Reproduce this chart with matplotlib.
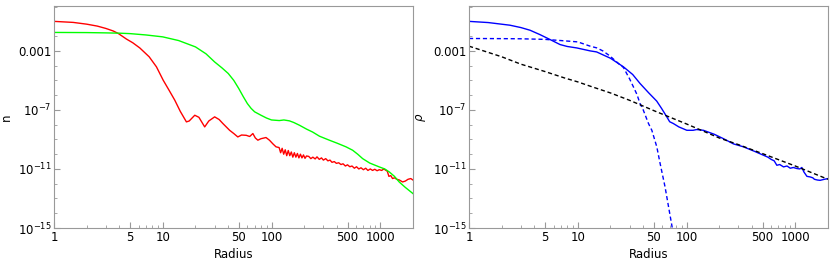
import numpy as np
import matplotlib.pyplot as plt
from matplotlib.ticker import FixedLocator, FixedFormatter, NullFormatter

# left panel: n(r), values as log10
r_red = [1, 1.5, 2, 2.5, 3, 3.5, 3.9, 4.64, 5.3, 6.15, 7.5, 8.75, 10.1, 11.5, 12.9, 14.5,
         16.5, 17.5, 19.7, 21.5, 24.3, 26.5, 30, 33, 35.7, 41.2, 45, 49, 53, 58.6, 63,
         67.4, 71, 74.9, 80, 89, 95.7, 103, 110,
         117.5, 121.3, 125.3, 129.4, 133.7, 138.0, 142.6, 147.2, 152.1, 157.0, 162.2,
         167.5, 173.0, 178.6, 184.5, 190.5, 196.8, 203.2, 209.9,
         220, 230, 240, 252, 262, 275, 288, 300, 315, 330, 345, 360, 378, 395, 415,
         435, 455, 478, 500, 525, 550, 578, 605, 635, 665, 700, 735, 770, 810, 850,
         890, 935, 980, 1030, 1080, 1130, 1160, 1200, 1250, 1297, 1350, 1420, 1500,
         1604, 1700, 1800, 1908, 2000]
n_red = [-1.0, -1.07, -1.19, -1.32, -1.48, -1.65, -1.82, -2.2, -2.45, -2.8, -3.4, -4.08,
         -4.99, -5.7, -6.34, -7.1, -7.81, -7.75, -7.36, -7.5, -8.15, -7.75, -7.47, -7.65,
         -7.92, -8.38, -8.6, -8.83, -8.7, -8.72, -8.8, -8.6, -8.9, -9.05, -8.95, -8.87,
         -9.05, -9.3, -9.5,
         -9.55, -9.9, -9.6, -10.0, -9.7, -10.1, -9.75, -10.1, -9.85, -10.2, -9.9,
         -10.2, -9.95, -10.25, -10.0, -10.25, -10.05, -10.28, -10.12,
         -10.15, -10.3, -10.2, -10.32, -10.18, -10.35, -10.25, -10.4, -10.3, -10.45,
         -10.4, -10.55, -10.5, -10.62, -10.58, -10.7, -10.65, -10.8, -10.72, -10.85,
         -10.8, -10.95, -10.85, -11.0, -10.92, -11.05, -10.95, -11.1, -11.0, -11.1,
         -11.02, -11.12, -11.05, -11.1, -11.0, -11.1, -11.15, -11.5, -11.45, -11.65,
         -11.6, -11.7, -11.75, -11.88, -11.82, -11.7, -11.65, -11.75]

r_green = [1, 2, 3, 4, 5, 7, 10, 14, 20, 25, 30, 35, 40, 45, 50, 55, 60, 65, 70, 80, 90,
           100, 118, 130, 146, 160, 181, 210, 239, 276, 340, 400, 484, 557, 620, 689,
           800, 978, 1100, 1210, 1350, 1493, 1700, 2000]
n_green = [-1.75, -1.76, -1.78, -1.8, -1.83, -1.92, -2.05, -2.3, -2.73, -3.2, -3.75, -4.15,
           -4.53, -5.0, -5.55, -6.1, -6.57, -6.9, -7.13, -7.36, -7.55, -7.68, -7.72, -7.68,
           -7.74, -7.85, -8.04, -8.3, -8.5, -8.78, -9.05, -9.25, -9.5, -9.73, -10.0,
           -10.3, -10.6, -10.86, -11.0, -11.2, -11.5, -11.88, -12.25, -12.67]

# right panel: rho(r), values as log10
r_blue = [1, 1.5, 2.38, 3, 3.64, 4.5, 5.56, 6.87, 8, 9.8, 13, 14.9, 20, 26.3, 32, 37.4,
          45, 53.2, 59, 65.9, 70, 75.6, 85, 100.7, 115, 124, 143, 180, 219, 270, 334,
          420, 510, 560, 600, 640, 677, 720, 780, 840, 900, 960, 1033, 1100, 1150, 1200,
          1280, 1371, 1450, 1500, 1600, 1694, 1850, 2000]
rho_blue = [-1.0, -1.08, -1.26, -1.42, -1.6, -1.9, -2.23, -2.57, -2.7, -2.8, -3.0, -3.07,
            -3.5, -4.08, -4.6, -5.21, -5.85, -6.4, -6.9, -7.47, -7.8, -7.92, -8.15, -8.38,
            -8.38, -8.33, -8.38, -8.65, -8.95, -9.3, -9.5, -9.8, -10.07, -10.2, -10.35,
            -10.45, -10.75, -10.7, -10.86, -10.8, -10.95, -10.9, -10.97, -11.0, -10.9,
            -11.2, -11.5, -11.54, -11.6, -11.7, -11.75, -11.77, -11.7, -11.65]

r_core = [1, 2, 3, 5, 7, 10, 13, 15, 17, 19.8, 22, 24.5, 26.3, 28.5, 30, 32.5, 35, 37.4,
          40, 44.7, 48, 53.3, 57.2, 63.5, 73.2, 78]
rho_core = [-2.16, -2.17, -2.18, -2.22, -2.3, -2.39, -2.68, -2.8, -3.0, -3.35, -3.65,
            -3.95, -4.12, -4.6, -4.9, -5.44, -5.95, -6.57, -7.0, -7.92, -8.38, -9.5,
            -10.63, -12.22, -14.8, -16.0]

r_fit = [1, 2, 3, 5, 7.6, 10, 13, 20, 30, 53.2, 100, 200, 300, 548, 1000, 2000]
rho_fit = [-2.68, -3.4, -3.9, -4.4, -4.84, -5.1, -5.39, -5.85, -6.35, -7.13, -7.95, -8.9,
           -9.35, -10.07, -10.8, -11.7]

x_major = [1, 5, 10, 50, 100, 500, 1000]
y_major = [1e-3, 1e-7, 1e-11, 1e-15]
y_labels = ['0.001', r'$10^{-7}$', r'$10^{-11}$', r'$10^{-15}$']

plt.rcParams['font.size'] = 8.5
plt.rcParams['mathtext.fontset'] = 'dejavusans'
frame = '#999999'

fig = plt.figure(figsize=(8.3, 2.69), dpi=100)
W, H = 830.0, 269.0
ax1 = fig.add_axes([54 / W, 41 / H, 359 / W, 222 / H])
ax2 = fig.add_axes([469 / W, 41 / H, 359 / W, 222 / H])

ax1.plot(r_red, 10.0 ** np.array(n_red), color=(1, 0, 0), lw=1.0)
ax1.plot(r_green, 10.0 ** np.array(n_green), color=(0, 1, 0), lw=1.0)

ax2.plot(r_blue, 10.0 ** np.array(rho_blue), color=(0, 0, 1), lw=1.0)
ax2.plot(r_core, 10.0 ** np.array(rho_core), color=(0, 0, 1), lw=1.0, ls=(0, (3, 2)))
ax2.plot(r_fit, 10.0 ** np.array(rho_fit), color='black', lw=1.0, ls=(0, (3, 2)))

x_minor = [m * 10 ** d for d in range(4) for m in range(1, 10)
           if m * 10 ** d not in x_major and m * 10 ** d <= 2000]
y_minor = [10.0 ** e for e in range(-14, 1) if 10.0 ** e not in y_major]

for ax, lab in [(ax1, 'n'), (ax2, r'$\rho$')]:
    ax.set_xscale('log')
    ax.set_yscale('log')
    ax.set_xlim(1, 2000)
    ax.set_ylim(1e-15, 1.1)
    ax.xaxis.set_major_locator(FixedLocator(x_major))
    ax.xaxis.set_major_formatter(FixedFormatter([str(v) for v in x_major]))
    ax.xaxis.set_minor_locator(FixedLocator(x_minor))
    ax.xaxis.set_minor_formatter(NullFormatter())
    ax.yaxis.set_major_locator(FixedLocator(y_major))
    ax.yaxis.set_major_formatter(FixedFormatter(y_labels))
    ax.yaxis.set_minor_locator(FixedLocator(y_minor))
    ax.yaxis.set_minor_formatter(NullFormatter())
    ax.tick_params(which='both', direction='in', color=frame, top=False, right=False,
                   labelsize=8.5, pad=2)
    ax.tick_params(which='major', length=4, width=0.8)
    ax.tick_params(which='minor', length=2, width=0.6)
    for s in ax.spines.values():
        s.set_color(frame)
        s.set_linewidth(0.8)
    ax.set_xlabel('Radius', fontsize=8.5, labelpad=3)
    ax.set_ylabel(lab, fontsize=8.5, labelpad=3)

fig.savefig('out.png', dpi=100)
